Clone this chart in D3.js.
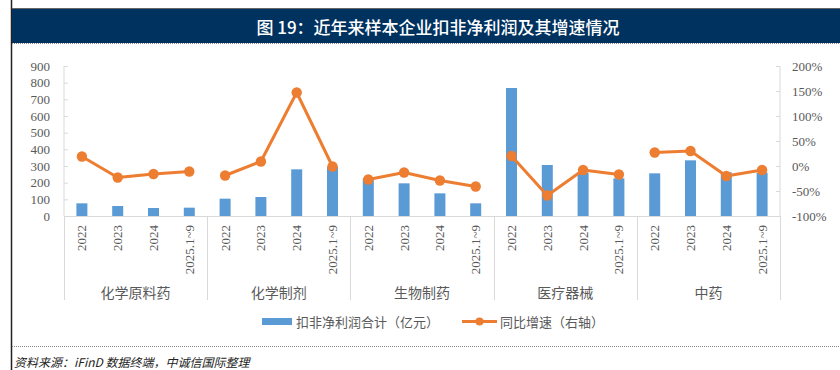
<!DOCTYPE html>
<html><head><meta charset="utf-8">
<script src="https://cdn.jsdelivr.net/npm/d3@7"></script>
<style>
body{margin:0;background:#fff;}
svg{display:block;}
</style></head>
<body>
<svg id="c" width="840" height="370"></svg>
<script>
const groups = ["化学原料药","化学制剂","生物制药","医疗器械","中药"];
const years = ["2022","2023","2024","2025.1~9"];
// 扣非净利润合计（亿元）
const profitChemAPI = [76, 60, 48, 50];
const profitChemPrep = [104, 114, 280, 296];
const profitBio = [226, 196, 136, 76];
const profitDevice = [768, 306, 260, 226];
const profitTCM = [256, 334, 262, 260];
// 同比增速（%）
const growthChemAPI = [19, -23, -16, -11];
const growthChemPrep = [-19, 9, 147, -1];
const growthBio = [-27, -13, -29, -41];
const growthDevice = [20, -59, -8, -17];
const growthTCM = [27, 30, -20, -8];
const leftTicks = [0,100,200,300,400,500,600,700,800,900];
const rightTicks = [-100,-50,0,50,100,150,200];
const title = "图 19：近年来样本企业扣非净利润及其增速情况";
const source = "资料来源：iFinD 数据终端，中诚信国际整理";
const legendBar = "扣非净利润合计（亿元）";
const legendLine = "同比增速（右轴）";

const profits = [profitChemAPI, profitChemPrep, profitBio, profitDevice, profitTCM];
const growths = [growthChemAPI, growthChemPrep, growthBio, growthDevice, growthTCM];

const rows = [];
groups.forEach((g, gi) => years.forEach((y, yi) => rows.push({
  key: gi + "-" + yi, group: g, gi, year: y, profit: profits[gi][yi], growth: growths[gi][yi]
})));

const svg = d3.select("#c");
const BLUE = "#5B9BD5", ORANGE = "#ED7D31", GRAY = "#595959", AX = "#D9D9D9";
const serif = "'Liberation Serif','Times New Roman',serif";
const cjk = "'Noto Sans CJK SC','Noto Sans',sans-serif";

// frame
svg.append("line").attr("x1",11.5).attr("x2",11.5).attr("y1",0).attr("y2",370)
  .attr("stroke","#222").attr("stroke-width",1.5);
svg.append("line").attr("x1",12).attr("x2",840).attr("y1",8.5).attr("y2",8.5)
  .attr("stroke","#666").attr("stroke-width",1);
svg.append("rect").attr("x",12).attr("y",9).attr("width",828).attr("height",34).attr("fill","#00325F");
svg.append("line").attr("x1",12).attr("x2",840).attr("y1",43.5).attr("y2",43.5)
  .attr("stroke","#888").attr("stroke-dasharray","1,1");
svg.append("text").attr("x",438).attr("y",26).attr("text-anchor","middle").attr("dominant-baseline","central")
  .attr("fill","#fff").attr("font-family",cjk).attr("font-size",17).attr("font-weight",500).text(title);

// scales
const x = d3.scaleBand().domain(rows.map(d => d.key)).range([64, 780]).padding(0);
const yL = d3.scaleLinear().domain([0, 900]).range([216, 66]);
const yR = d3.scaleLinear().domain([-100, 200]).range([216, 66]);

// left axis
const gl = svg.append("g").attr("transform","translate(64,0)")
  .call(d3.axisLeft(yL).tickValues(leftTicks).tickSize(-4).tickPadding(14).tickFormat(d3.format("d")));
gl.select(".domain").attr("stroke",AX).attr("d","M0,66V216");
gl.selectAll(".tick line").attr("stroke",AX);
gl.selectAll("text").attr("fill",GRAY).attr("font-family",serif).attr("font-size",13);

// right axis
const gr = svg.append("g").attr("transform","translate(780,0)")
  .call(d3.axisRight(yR).tickValues(rightTicks).tickSize(-4).tickPadding(12).tickFormat(d => d + "%"));
gr.select(".domain").attr("stroke",AX).attr("d","M0,66V216");
gr.selectAll(".tick line").attr("stroke",AX);
gr.selectAll("text").attr("fill",GRAY).attr("font-family",serif).attr("font-size",13);

// category axis
svg.append("line").attr("x1",64).attr("x2",780).attr("y1",216.5).attr("y2",216.5).attr("stroke",AX);
const bw = x.bandwidth();
groups.forEach((g, gi) => {
  const x0 = x(gi + "-0");
  svg.append("line").attr("x1",Math.round(x0)+0.5).attr("x2",Math.round(x0)+0.5).attr("y1",216).attr("y2",300).attr("stroke",AX);
  svg.append("text").attr("x", x0 + bw*2).attr("y",292).attr("text-anchor","middle").attr("dominant-baseline","central")
    .attr("fill",GRAY).attr("font-family",cjk).attr("font-size",14).text(g);
});
svg.append("line").attr("x1",780.5).attr("x2",780.5).attr("y1",216).attr("y2",300).attr("stroke",AX);

svg.append("g").selectAll("text").data(rows).join("text")
  .attr("transform", d => `translate(${x(d.key)+bw/2},225) rotate(-90)`)
  .attr("text-anchor","end").attr("dy","0.35em")
  .attr("fill",GRAY).attr("font-family",serif).attr("font-size",13).text(d => d.year);

// bars
const barW = 11;
svg.append("g").selectAll("rect").data(rows).join("rect")
  .attr("x", d => x(d.key) + bw/2 - barW/2).attr("width", barW)
  .attr("y", d => yL(d.profit)).attr("height", d => yL(0) - yL(d.profit))
  .attr("fill", BLUE);

// lines per group
const line = d3.line().x(d => x(d.key) + bw/2).y(d => yR(d.growth));
groups.forEach((g, gi) => {
  const pts = rows.filter(d => d.gi === gi);
  svg.append("path").datum(pts).attr("d", line).attr("fill","none")
    .attr("stroke",ORANGE).attr("stroke-width",3).attr("stroke-linejoin","round");
});
svg.append("g").selectAll("circle").data(rows).join("circle")
  .attr("cx", d => x(d.key) + bw/2).attr("cy", d => yR(d.growth)).attr("r",5.2).attr("fill",ORANGE);

// legend
svg.append("rect").attr("x",262).attr("y",318).attr("width",30).attr("height",7).attr("fill",BLUE);
svg.append("text").attr("x",296).attr("y",321.5).attr("dominant-baseline","central")
  .attr("fill",GRAY).attr("font-family",cjk).attr("font-size",13).text(legendBar);
svg.append("line").attr("x1",462).attr("x2",497).attr("y1",321.5).attr("y2",321.5).attr("stroke",ORANGE).attr("stroke-width",3);
svg.append("circle").attr("cx",479.5).attr("cy",321.5).attr("r",4).attr("fill",ORANGE);
svg.append("text").attr("x",500).attr("y",321.5).attr("dominant-baseline","central")
  .attr("fill",GRAY).attr("font-family",cjk).attr("font-size",13).text(legendLine);

// footer
svg.append("line").attr("x1",12).attr("x2",840).attr("y1",346.5).attr("y2",346.5)
  .attr("stroke","#888").attr("stroke-dasharray","1,1");
svg.append("text").attr("x",14).attr("y",361).attr("dominant-baseline","central")
  .attr("fill","#222").attr("font-family",cjk).attr("font-size",12).attr("font-style","italic").text(source);
</script>
</body></html>
